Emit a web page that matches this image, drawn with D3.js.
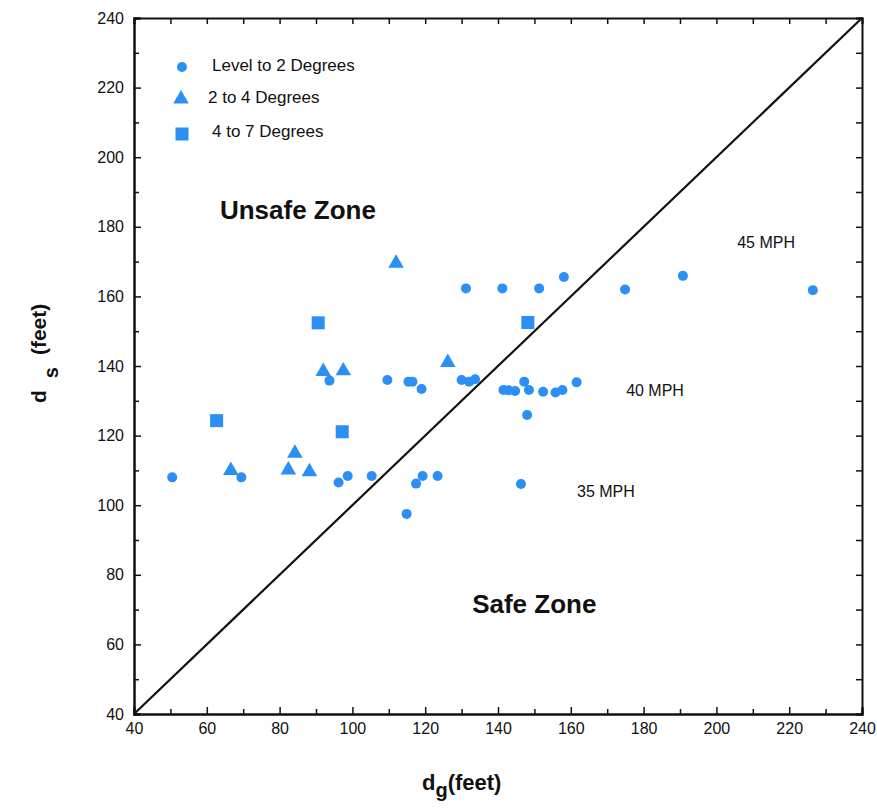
<!DOCTYPE html>
<html lang="en">
<head>
    <meta charset="UTF-8" />
    <title>Sight distance: d_s vs d_g</title>
    <script src="https://d3js.org/d3.v7.min.js"></script>
    <style>
        body {
            margin: 0;
            background: #fff;
            font-family: "Liberation Sans", Arial, sans-serif;
        }
        .tick text {
            font-size: 16px;
            fill: #111;
        }
        .note {
            font-size: 16px;
            fill: #111;
        }
        .legend-text {
            font-size: 17px;
            fill: #111;
        }
        .zone {
            font-size: 26px;
            font-weight: bold;
            fill: #111;
        }
    </style>
</head>
<body>
    <svg id="chart" width="877" height="808"></svg>

    <script>
        // data: [d_g, d_s]
        const levelPts = [
            [50.5, 108], [69.5, 108], [93.7, 135.8], [109.6, 136], [96.2, 106.5],
            [98.7, 108.4], [105.3, 108.4], [115.4, 135.5], [116.5, 135.5], [119, 133.4],
            [130, 136], [132.1, 135.5], [133.7, 136.2], [131.2, 162.3], [141.2, 162.3],
            [151.3, 162.3], [158.1, 165.6], [174.9, 162], [190.8, 165.9], [226.5, 161.8],
            [141.5, 133.1], [142.9, 133], [144.7, 132.8], [147.2, 135.5], [148.5, 133.1],
            [152.4, 132.6], [155.8, 132.4], [157.7, 133.1], [161.6, 135.3], [148, 125.9],
            [117.5, 106.2], [119.3, 108.4], [123.4, 108.4], [146.3, 106.1], [114.9, 97.5]
        ];
        const midPts = [
            [66.6, 110], [82.4, 110.1], [84.2, 114.9], [88.2, 109.6], [92, 138.4],
            [97.5, 138.6], [112, 169.5], [126.2, 141]
        ];
        const steepPts = [
            [62.7, 124.3], [90.6, 152.4], [97.2, 121.1], [148.2, 152.5]
        ];
        const legendLabels = ["Level to 2 Degrees", "2 to 4 Degrees", "4 to 7 Degrees"];
        const speedNotes = [
            { text: "45 MPH", x: 205.7, y: 175.6 },
            { text: "40 MPH", x: 175.2, y: 133.1 },
            { text: "35 MPH", x: 161.7, y: 104.1 }
        ];
        const zoneNotes = [
            { text: "Unsafe Zone", x: 63.6, y: 184.8 },
            { text: "Safe Zone", x: 132.9, y: 71.6 }
        ];
        const majorTicks = d3.range(40, 241, 20);
        const minorTicks = d3.range(50, 240, 20);

        const blue = "#2b8ff3";
        const plotL = 134, plotR = 862, plotT = 18, plotB = 714;

        const svg = d3.select("#chart");

        const x = d3.scaleLinear().domain([40, 240]).range([plotL, plotR]);
        const y = d3.scaleLinear().domain([40, 240]).range([plotB, plotT]);

        // axes, ticks pointing inward
        const bottomAxis = svg.append("g")
            .attr("transform", `translate(0,${plotB})`)
            .call(d3.axisBottom(x).tickValues(majorTicks).tickSize(-7).tickPadding(6).tickFormat(d3.format("d")));
        svg.append("g")
            .attr("transform", `translate(0,${plotB})`)
            .call(d3.axisBottom(x).tickValues(minorTicks).tickSize(-5).tickFormat(""));

        svg.append("g")
            .attr("transform", `translate(${plotL},0)`)
            .call(d3.axisLeft(y).tickValues(majorTicks).tickSize(-7).tickPadding(10).tickFormat(d3.format("d")));
        svg.append("g")
            .attr("transform", `translate(${plotL},0)`)
            .call(d3.axisLeft(y).tickValues(minorTicks).tickSize(-5).tickFormat(""));

        svg.append("g")
            .attr("transform", `translate(0,${plotT})`)
            .call(d3.axisTop(x).tickValues(d3.range(40, 241, 10)).tickSize(-6).tickFormat(""));
        svg.append("g")
            .attr("transform", `translate(${plotR},0)`)
            .call(d3.axisRight(y).tickValues(d3.range(40, 241, 10)).tickSize(-6).tickFormat(""));

        svg.selectAll(".domain").attr("stroke", "#111").attr("stroke-width", 2);
        svg.selectAll(".tick line").attr("stroke", "#111").attr("stroke-width", 1.5);
        bottomAxis.selectAll(".tick text").attr("dy", "0.85em");

        // equal-distance line
        svg.append("line")
            .attr("x1", x(40)).attr("y1", y(40))
            .attr("x2", x(240)).attr("y2", y(240))
            .attr("stroke", "#111")
            .attr("stroke-width", 2.2);

        const tri = d3.symbol().type(d3.symbolTriangle).size(105);

        // markers
        svg.append("g").selectAll("circle")
            .data(levelPts)
            .join("circle")
            .attr("cx", d => x(d[0]))
            .attr("cy", d => y(d[1]))
            .attr("r", 5)
            .attr("fill", blue);

        svg.append("g").selectAll("path")
            .data(midPts)
            .join("path")
            .attr("d", tri)
            .attr("transform", d => `translate(${x(d[0])},${y(d[1])})`)
            .attr("fill", blue);

        svg.append("g").selectAll("rect")
            .data(steepPts)
            .join("rect")
            .attr("x", d => x(d[0]) - 6.5)
            .attr("y", d => y(d[1]) - 6.5)
            .attr("width", 13)
            .attr("height", 13)
            .attr("fill", blue);

        // legend
        const legend = svg.append("g").attr("transform", "translate(182,67)");
        legend.append("circle").attr("r", 5).attr("fill", blue);
        legend.append("path").attr("d", tri).attr("transform", "translate(-1,32)").attr("fill", blue);
        legend.append("rect").attr("x", -6.5).attr("y", 60.5).attr("width", 13).attr("height", 13).attr("fill", blue);
        legend.selectAll("text")
            .data(legendLabels)
            .join("text")
            .attr("class", "legend-text")
            .attr("x", (d, i) => [30, 26, 30][i])
            .attr("y", (d, i) => [-2, 30, 64][i])
            .attr("dy", "0.35em")
            .text(d => d);

        // annotations
        svg.selectAll(".speed")
            .data(speedNotes)
            .join("text")
            .attr("class", "note speed")
            .attr("x", d => x(d.x))
            .attr("y", d => y(d.y))
            .attr("dy", "0.35em")
            .text(d => d.text);

        svg.selectAll(".zone")
            .data(zoneNotes)
            .join("text")
            .attr("class", "zone")
            .attr("x", d => x(d.x))
            .attr("y", d => y(d.y))
            .attr("dy", "0.35em")
            .text(d => d.text);

        // axis titles
        const xt = svg.append("text")
            .attr("x", 422).attr("y", 790)
            .attr("font-size", 22).attr("font-weight", "bold").attr("fill", "#111");
        xt.append("tspan").text("d");
        xt.append("tspan").attr("font-size", 20).attr("dy", 7).text("g");
        xt.append("tspan").attr("dy", -7).text("(feet)");

        const yt = svg.append("text")
            .attr("transform", "translate(46,403) rotate(-90)")
            .attr("font-size", 21).attr("font-weight", "bold").attr("fill", "#111");
        yt.append("tspan").text("d");
        yt.append("tspan").attr("dx", 12).attr("dy", 12).attr("font-size", 20).text("s");
        yt.append("tspan").attr("dx", 12).attr("dy", -12).text("(feet)");
    </script>
</body>
</html>
